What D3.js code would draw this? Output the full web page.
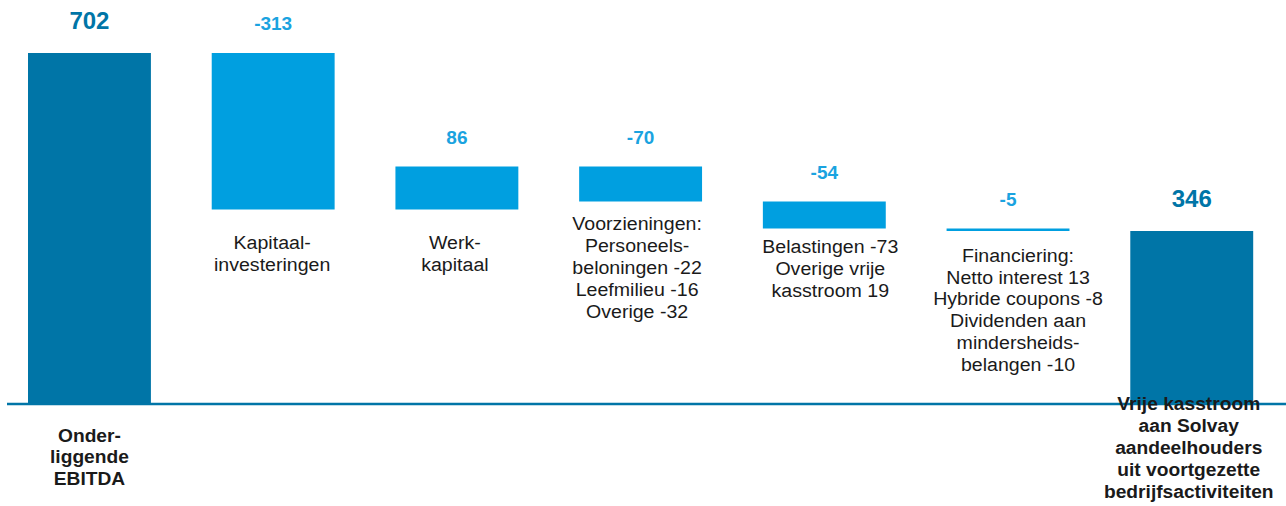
<!DOCTYPE html>
<html>
<head>
<meta charset="utf-8">
<script src="https://cdn.jsdelivr.net/npm/d3@7"></script>
<style>
  html, body { margin: 0; padding: 0; background: #fff; }
  svg { display: block; font-family: "Liberation Sans", Arial, sans-serif; }
</style>
</head>
<body>
<svg id="chart" width="1286" height="506"></svg>
<script>
// ---- data ----
const categories = [
  ["Onder-", "liggende", "EBITDA"],
  ["Kapitaal-", "investeringen"],
  ["Werk-", "kapitaal"],
  ["Voorzieningen:", "Personeels-", "beloningen -22", "Leefmilieu -16", "Overige -32"],
  ["Belastingen -73", "Overige vrije", "kasstroom 19"],
  ["Financiering:", "Netto interest 13", "Hybride coupons -8", "Dividenden aan", "mindersheids-", "belangen -10"],
  ["Vrije kasstroom", "aan Solvay", "aandeelhouders", "uit voortgezette", "bedrijfsactiviteiten"]
];
const values = [702, -313, 86, -70, -54, -5, 346];
const kinds = ["total", "delta", "delta", "delta", "delta", "delta", "total"];
const valueLabels = ["702", "-313", "86", "-70", "-54", "-5", "346"];

// ---- layout ----
const svg = d3.select("#chart");
const darkBlue = "#0075a7";
const lightBlue = "#009fe0";
const textColor = "#1a1a1a";

let run = 0;
const bars = values.map((v, i) => {
  let y0, y1;
  if (kinds[i] === "total") { y0 = 0; y1 = v; run = v; }
  else { y0 = run; y1 = run + v; run = run + v; }
  return { i, v, lo: Math.min(y0, y1), hi: Math.max(y0, y1), kind: kinds[i] };
});

const x = d3.scaleBand()
  .domain(d3.range(values.length))
  .range([-2.4, 1283.6])
  .paddingInner(0.331)
  .paddingOuter(0.1655);

const y = d3.scaleLinear().domain([0, 702]).range([404, 53]);

// bars
svg.append("g").selectAll("rect").data(bars).join("rect")
  .attr("x", d => x(d.i))
  .attr("width", x.bandwidth())
  .attr("y", d => y(d.hi))
  .attr("height", d => Math.max(y(d.lo) - y(d.hi), 2.5))
  .attr("fill", d => d.kind === "total" ? darkBlue : lightBlue);

// baseline axis line
svg.append("line")
  .attr("x1", 7).attr("x2", 1286)
  .attr("y1", y(0)).attr("y2", y(0))
  .attr("stroke", darkBlue).attr("stroke-width", 2.5);

// value labels
svg.append("g").selectAll("text").data(bars).join("text")
  .attr("x", d => x(d.i) + x.bandwidth() / 2)
  .attr("y", d => y(d.hi) - (d.kind === "total" ? 24.5 : 23))
  .attr("text-anchor", "middle")
  .attr("font-size", d => d.kind === "total" ? 24 : 19)
  .attr("font-weight", "bold")
  .attr("fill", d => d.kind === "total" ? darkBlue : "#1aa3e0")
  .text(d => valueLabels[d.i]);

// category labels (text boxes slightly offset like the original slide)
const lineH = 21.9;
const firstBaseline = [441.5, 249, 249, 230, 253.3, 261.7, 410.3];
const boxShift = [0, -1, -2, -3.5, 6, 10, -3];
const catG = svg.append("g");
bars.forEach(d => {
  const cx = x(d.i) + x.bandwidth() / 2 + boxShift[d.i];
  const bold = d.kind === "total";
  const t = catG.append("text")
    .attr("transform", `translate(${cx},0) scale(${bold ? 1.0 : 1.02},1)`)
    .attr("text-anchor", "middle")
    .attr("font-size", 19.2)
    .attr("font-weight", bold ? "bold" : "normal")
    .attr("fill", textColor);
  categories[d.i].forEach((s, k) => {
    t.append("tspan")
      .attr("x", 0)
      .attr("y", firstBaseline[d.i] + k * lineH)
      .text(s);
  });
});
</script>
</body>
</html>
